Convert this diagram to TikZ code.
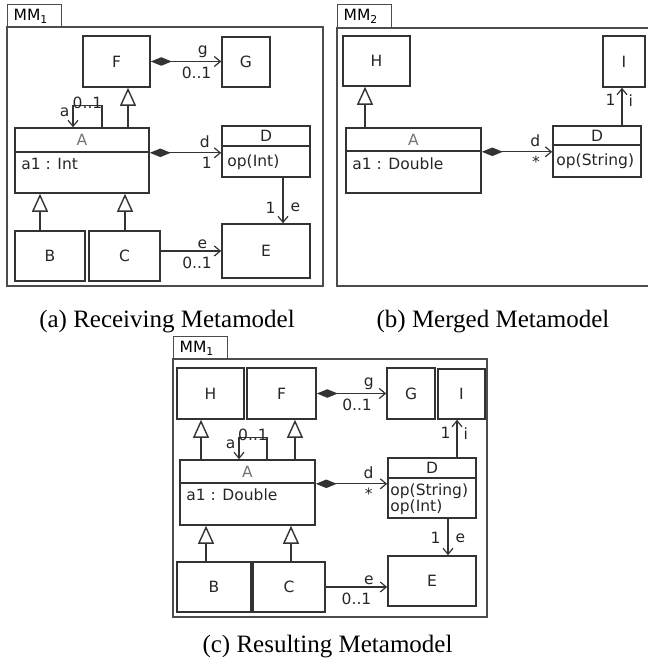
\documentclass[tikz,border=0pt]{standalone}
\usepackage{fontspec}
\setmainfont{Liberation Serif}
\newfontfamily\umlfont{DejaVu Sans}
\newcommand\umltext{\umlfont\fontsize{15.5}{18}\selectfont}
\usetikzlibrary{arrows.meta, calc}

\begin{document}
\begin{tikzpicture}[x=1pt, y=-1pt,
    cls/.style={draw=black!80, line width=1.6pt, inner sep=0pt, text=black!85, font=\umltext},
    pane/.style={draw=black!70, line width=1.4pt},
    tab/.style={pane, anchor=north west, inner sep=0pt, inner xsep=6pt, text width=42pt,
                align=left, minimum height=23pt, font=\umltext},
    attr/.style={anchor=base west, inner sep=0pt, text=black!85, font=\umltext},
    lbl/.style={inner sep=1pt, text=black!85, font=\umltext},
    comp/.style={{Diamond[length=21pt,width=8.5pt]}-{Straight Barb[length=6pt,width=10pt]},
                 line width=1.2pt, draw=black!80},
    nav/.style={-{Straight Barb[length=6pt,width=10pt]}, line width=1.2pt, draw=black!80},
    gen/.style={-{Triangle[open,length=18pt,width=16pt]}, line width=1.4pt, draw=black!80},
    capt/.style={anchor=base, inner sep=0pt, font=\fontsize{25}{28}\selectfont}]
  \useasboundingbox (0,0) rectangle (647,663);

  % (a) receiving metamodel
  \node[tab] (tabA) at (7,4) {MM\textsubscript{1}};
  \draw[pane] (7,27) rectangle (323,286);
  \node[cls, minimum width=67pt, minimum height=51pt] (F) at (116.5,61.5) {F};
  \node[cls, minimum width=48pt, minimum height=50pt] (G) at (246,62) {G};
  \node[cls, minimum width=134pt, minimum height=24pt, text=black!55] (A) at (82,140) {A};
  \node[cls, minimum width=134pt, minimum height=41pt] (Ab) at (82,172.5) {};
  \node[attr] (Aattr) at ([shift={(7,18)}]Ab.north west) {a1 : Int};
  \node[cls, minimum width=88pt, minimum height=20pt] (D) at (266,136) {D};
  \node[cls, minimum width=88pt, minimum height=31pt] (Db) at (266,161.5) {};
  \node[attr] (Dop) at ([shift={(6,21)}]Db.north west) {op(Int)};
  \node[cls, minimum width=88pt, minimum height=54pt] (E) at (266,251) {E};
  \node[cls, minimum width=70pt, minimum height=50pt] (B) at (50,256) {B};
  \node[cls, minimum width=71pt, minimum height=50pt] (C) at (124.5,256) {C};

  \draw[comp] (F.east) -- (F.east -| G.west)
    node[lbl, pos=0.74, above=2pt] {g} node[lbl, pos=0.65, below=4pt] {0..1};
  \draw[comp] (A.south east) -- (A.south east -| Db.west)
    node[lbl, pos=0.77, above=3pt] {d} node[lbl, pos=0.8, below=3pt] {1};
  \draw[nav] ([xshift=17pt]Db.south) -- ([xshift=17pt]Db.south |- E.north)
    node[lbl, pos=0.66, left=6pt] {1} node[lbl, pos=0.66, right=6pt] {e};
  \draw[nav] (E.west -| C.east) -- (E.west)
    node[lbl, pos=0.69, above=1pt] {e} node[lbl, pos=0.6, below=4pt] {0..1};
  \draw[nav] ([xshift=20pt]A.north) -- ++(0,-22)
    -- node[lbl, above=-5pt] {0..1} ++(-29,0)
    -- node[lbl, pos=0.3, left=2pt] {a} ++(0,22);
  \draw[gen] ([xshift=46pt]A.north) -- ([xshift=46pt]A.north |- F.south);
  \draw[gen] ([xshift=-10pt]B.north) -- ([xshift=-10pt]B.north |- Ab.south);
  \draw[gen] ([xshift=0.5pt]C.north) -- ([xshift=0.5pt]C.north |- Ab.south);

  % (b) merged metamodel
  \node[tab] (tabB) at (337,4) {MM\textsubscript{2}};
  \draw[pane] (337,28) rectangle (662,286);
  \node[cls, minimum width=67pt, minimum height=50pt] (H2) at (376.5,61) {H};
  \node[cls, minimum width=42pt, minimum height=51pt] (I2) at (624,61.5) {I};
  \node[cls, minimum width=135pt, minimum height=23pt, text=black!55] (A2) at (413.5,139.5) {A};
  \node[cls, minimum width=135pt, minimum height=42pt] (A2b) at (413.5,172) {};
  \node[attr] (A2attr) at ([shift={(7,19.5)}]A2b.north west) {a1 : Double};
  \node[cls, minimum width=88pt, minimum height=19pt] (D2) at (597,135.5) {D};
  \node[cls, minimum width=88pt, minimum height=32pt] (D2b) at (597,161) {};
  \node[attr] (D2op) at ([shift={(4,21.5)}]D2b.north west) {op(String)};

  \draw[gen] ([xshift=-48.5pt]A2.north) -- ([xshift=-48.5pt]A2.north |- H2.south);
  \draw[comp] (A2.south east) -- (A2.south east -| D2b.west)
    node[lbl, pos=0.76, above=3pt] {d} node[lbl, pos=0.77, below=3pt] {*};
  \draw[nav] ([xshift=25pt]D2.north) -- ([xshift=25pt]D2.north |- I2.south)
    node[lbl, pos=0.67, left=5pt] {1} node[lbl, pos=0.67, right=5pt] {i};

  % (c) resulting metamodel
  \node[tab] (tabC) at (173,336) {MM\textsubscript{1}};
  \draw[pane] (173,359) rectangle (487,617);
  \node[cls, minimum width=67pt, minimum height=51pt] (H3) at (210.5,393.5) {H};
  \node[cls, minimum width=69pt, minimum height=51pt] (F3) at (281.5,393.5) {F};
  \node[cls, minimum width=48pt, minimum height=51pt] (G3) at (411,393.5) {G};
  \node[cls, minimum width=47pt, minimum height=50pt] (I3) at (461.5,394) {I};
  \node[cls, minimum width=135pt, minimum height=23pt, text=black!55] (A3) at (247.5,471.5) {A};
  \node[cls, minimum width=135pt, minimum height=42pt] (A3b) at (247.5,504) {};
  \node[attr] (A3attr) at ([shift={(7,18.7)}]A3b.north west) {a1 : Double};
  \node[cls, minimum width=88pt, minimum height=20pt] (D3) at (432,468) {D};
  \node[cls, minimum width=88pt, minimum height=40pt] (D3b) at (432,498) {};
  \node[attr] (D3op) at ([shift={(3,18)}]D3b.north west) {op(String)};
  \node[attr] (D3opb) at ([shift={(3,34)}]D3b.north west) {op(Int)};
  \node[cls, minimum width=88pt, minimum height=50pt] (E3) at (432,581) {E};
  \node[cls, minimum width=74pt, minimum height=50pt] (B3) at (214,587) {B};
  \node[cls, minimum width=72pt, minimum height=50pt] (C3) at (289,587) {C};

  \draw[comp] (F3.east) -- (F3.east -| G3.west)
    node[lbl, pos=0.75, above=2pt] {g} node[lbl, pos=0.58, below=4pt] {0..1};
  \draw[gen] ([xshift=-46.5pt]A3.north) -- ([xshift=-46.5pt]A3.north |- H3.south);
  \draw[gen] ([xshift=47.5pt]A3.north) -- ([xshift=47.5pt]A3.north |- F3.south);
  \draw[nav] ([xshift=19.5pt]A3.north) -- ++(0,-22)
    -- node[lbl, above=-5pt] {0..1} ++(-28,0)
    -- node[lbl, pos=0.3, left=2pt] {a} ++(0,22);
  \draw[gen] ([xshift=-8pt]B3.north) -- ([xshift=-8pt]B3.north |- A3b.south);
  \draw[gen] ([xshift=2pt]C3.north) -- ([xshift=2pt]C3.north |- A3b.south);
  \draw[comp] (A3.south east) -- (A3.south east -| D3b.west)
    node[lbl, pos=0.74, above=3pt] {d} node[lbl, pos=0.74, below=3pt] {*};
  \draw[nav] ([xshift=25pt]D3.north) -- ([xshift=25pt]D3.north |- I3.south)
    node[lbl, pos=0.64, left=5pt] {1} node[lbl, pos=0.64, right=5pt] {i};
  \draw[nav] ([xshift=16pt]D3b.south) -- ([xshift=16pt]D3b.south |- E3.north)
    node[lbl, pos=0.53, left=6pt] {1} node[lbl, pos=0.53, right=6pt] {e};
  \draw[nav] (C3.east) -- (C3.east -| E3.west)
    node[lbl, pos=0.7, above=1pt] {e} node[lbl, pos=0.5, below=4pt] {0..1};

  % captions
  \node[capt] (capA) at (167,327) {(a) Receiving Metamodel};
  \node[capt] (capB) at (493,327) {(b) Merged Metamodel};
  \node[capt] (capC) at (327.5,652) {(c) Resulting Metamodel};
\end{tikzpicture}
\end{document}
